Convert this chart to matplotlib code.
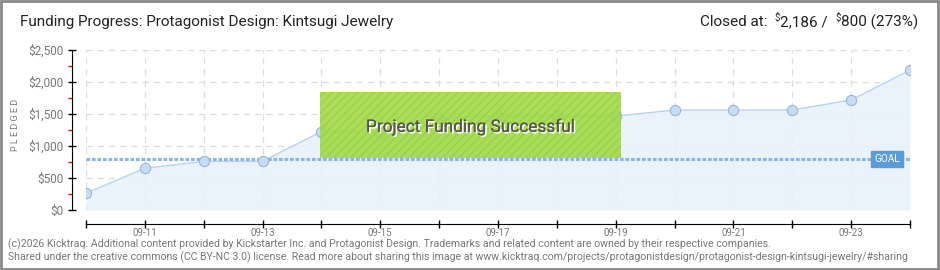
import matplotlib
matplotlib.use("Agg")
import matplotlib.pyplot as plt
import matplotlib.transforms as mtransforms
import matplotlib.patheffects as pe
from matplotlib.patches import Rectangle
import numpy as np

# ---- data ----
dates = ["09-10", "09-11", "09-12", "09-13", "09-14", "09-15", "09-16", "09-17",
         "09-18", "09-19", "09-20", "09-21", "09-22", "09-23", "09-24"]
pledged = [262, 652, 760, 760, 1225, 1210, 1440, 1467, 1467, 1467, 1562, 1562, 1562, 1719, 2186]
goal = 800
yticks = [0, 500, 1000, 1500, 2000, 2500]
ytick_labels = ["$0", "$500", "$1,000", "$1,500", "$2,000", "$2,500"]
xlabel_dates = ["09-11", "09-13", "09-15", "09-17", "09-19", "09-21", "09-23"]
title = "Funding Progress: Protagonist Design: Kintsugi Jewelry"
footer1 = ("(c)2026 Kicktraq. Additional content provided by Kickstarter Inc. and Protagonist Design. "
           "Trademarks and related content are owned by their respective companies.")
footer2 = ("Shared under the creative commons (CC BY-NC 3.0) license. Read more about sharing this image at "
           "www.kicktraq.com/projects/protagonistdesign/protagonist-design-kintsugi-jewelry/#sharing")

plt.rcParams['font.family'] = ['Roboto', 'DejaVu Sans']

W, H = 940, 270
fig = plt.figure(figsize=(W / 100, H / 100), dpi=100)
fig.patch.set_facecolor("white")

ax = fig.add_axes([86 / W, 1 - 210 / H, (910 - 86) / W, (210 - 50) / H])
x = np.arange(len(dates))

ax.set_xlim(0, len(dates) - 1)
ax.set_ylim(0, 2500)

# grid
ax.set_yticks(yticks)
ax.set_yticklabels(ytick_labels)
ax.set_yticks([250, 750, 1250, 1750, 2250], minor=True)
ax.set_xticks(x)
ax.set_xticklabels([d if d in xlabel_dates else "" for d in dates])
ax.grid(True, which="major", color="#dddddd", linestyle=(0, (5, 4)), linewidth=0.9)
ax.set_axisbelow(True)

# fill + line
ax.fill_between(x, pledged, 0, color="#e8f1fb", alpha=0.9, zorder=1, linewidth=0)
ax.plot(x, pledged, color="#b5d3f2", linewidth=1.0, zorder=2)
ax.scatter(x, pledged, s=55, facecolor="#c4dcf6", edgecolor="#9bb7d6", linewidth=0.8, zorder=3)

# goal line
ax.axhline(goal, color="#8db4e2", linewidth=2.2, linestyle=(0, (1.2, 0.6)), zorder=2.5)
ax.text(0.9725, goal, "GOAL", transform=mtransforms.blended_transform_factory(ax.transAxes, ax.transData),
        ha="center", va="center", fontsize=7.2, color="white", zorder=6,
        bbox=dict(boxstyle="square,pad=0.33", facecolor="#5b9bd8", edgecolor="#5b9bd8"))

# success box
rect = Rectangle((0.284, 0.325), 0.365, 0.4125, transform=ax.transAxes, facecolor="#a2d940",
                 alpha=0.88, zorder=5, hatch="////")
rect.set_edgecolor((0.58, 0.82, 0.3, 0.35))
rect.set_linewidth(0)
ax.add_patch(rect)
ax.text(0.4665, 0.52, "Project Funding Successful", transform=ax.transAxes,
        ha="center", va="center", fontsize=12.4, color="#555555", zorder=7,
        path_effects=[pe.withSimplePatchShadow(offset=(1.2, -1.2), shadow_rgbFace="white", alpha=1.0),
                      pe.Normal()])

# spines
for s in ["top", "right"]:
    ax.spines[s].set_visible(False)
ax.spines["left"].set_position(("outward", 10))
ax.spines["bottom"].set_position(("outward", 10))
ax.spines["left"].set_color("black")
ax.spines["bottom"].set_color("black")
ax.tick_params(axis="y", which="major", direction="inout", length=6, width=1, colors="black",
               labelcolor="#777777", labelsize=8.5, pad=3)
ax.tick_params(axis="y", which="minor", direction="out", length=3, width=1, colors="red")
ax.tick_params(axis="x", which="major", direction="inout", length=6, width=1, colors="black",
               labelcolor="#777777", labelsize=7, pad=0)

ax.set_ylabel("P L E D G E D", fontsize=6.5, color="#777777")
ax.yaxis.set_label_coords(-0.08, 0.53)

# title
fig.text(20 / W, 1 - 22 / H, title, fontsize=11, color="#222222", ha="left", va="center")

# closed at (right aligned with superscript $)
fig.canvas.draw()
r = fig.canvas.get_renderer()
xr = 918
yc = H - 22
pieces = [("800 (273%)", 11, 0), ("$", 7, 4), ("2,186 /  ", 11, 0), ("$", 7, 4), ("Closed at:  ", 11, 0)]
for s, fs, dy in pieces:
    t = fig.text(xr / W, (yc + dy) / H, s, fontsize=fs, color="#222222", ha="right", va="center")
    bb = t.get_window_extent(renderer=r)
    xr -= bb.width

# footer
fig.text(8 / W, 1 - 244 / H, footer1, fontsize=7.6, color="#777777", ha="left", va="center")
fig.text(8 / W, 1 - 257 / H, footer2, fontsize=7.6, color="#777777", ha="left", va="center")

# figure border
fig.add_artist(Rectangle((0.001, 0.002), 0.997, 0.996, transform=fig.transFigure, fill=False,
                         edgecolor="#888888", linewidth=2))

fig.savefig("out.png", dpi=100)
